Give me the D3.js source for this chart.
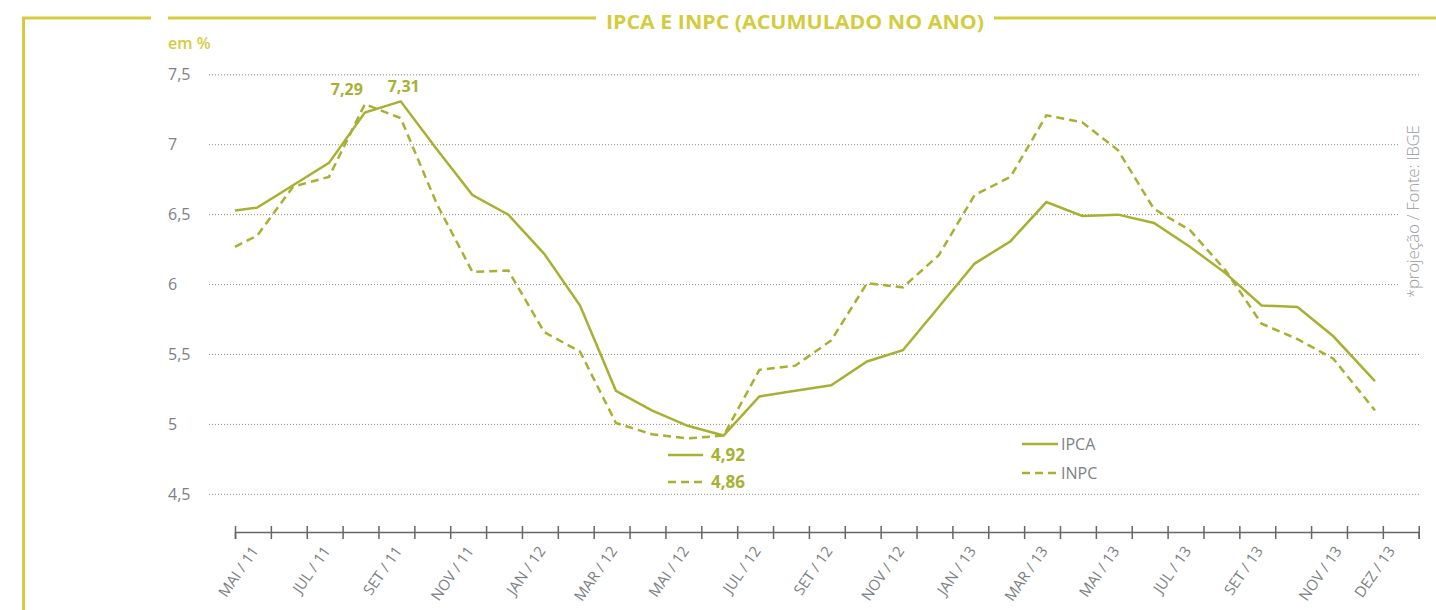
<!DOCTYPE html>
<html>
<head>
<meta charset="utf-8">
<script src="https://cdn.jsdelivr.net/npm/d3@7"></script>
<style>
  body { margin: 0; background: #fff; }
  text { font-family: "Open Sans", "Noto Sans", sans-serif; }
</style>
</head>
<body>
<div id="chart"></div>
<script>
// monthly points (first one is where the line enters the axis)
const monthPos = [0, 0.62, 1.62, 2.62, 3.62, 4.62, 5.62, 6.62, 7.62, 8.62, 9.62, 10.62, 11.62,
    12.62, 13.62, 14.62, 15.62, 16.62, 17.62, 18.62, 19.62, 20.62, 21.62, 22.62, 23.62, 24.62,
    25.62, 26.62, 27.62, 28.62, 29.62, 30.62, 31.78];
const ipca = [6.53, 6.55, 6.71, 6.87, 7.23, 7.31, 6.97, 6.64, 6.50, 6.22, 5.85, 5.24, 5.10,
    4.99, 4.92, 5.20, 5.24, 5.28, 5.45, 5.53, 5.84, 6.15, 6.31, 6.59, 6.49, 6.50,
    6.44, 6.27, 6.08, 5.85, 5.84, 5.63, 5.31];
const inpc = [6.27, 6.35, 6.70, 6.77, 7.29, 7.19, 6.58, 6.09, 6.10, 5.66, 5.52, 5.01, 4.93,
    4.90, 4.92, 5.39, 5.42, 5.60, 6.01, 5.98, 6.21, 6.64, 6.77, 7.21, 7.16, 6.96,
    6.54, 6.39, 6.10, 5.72, 5.61, 5.47, 5.10];

// x axis labels and where they sit
const xLabels = ['MAI / 11', 'JUL / 11', 'SET / 11', 'NOV / 11', 'JAN / 12', 'MAR / 12', 'MAI / 12',
    'JUL / 12', 'SET / 12', 'NOV / 12', 'JAN / 13', 'MAR / 13', 'MAI / 13', 'JUL / 13',
    'SET / 13', 'NOV / 13', 'DEZ / 13'];
const xLabelPos = [0.62, 2.62, 4.62, 6.62, 8.62, 10.62, 12.62, 14.62, 16.62, 18.62, 20.62,
    22.62, 24.62, 26.62, 28.62, 30.82, 32.3];
const yTicks = [4.5, 5, 5.5, 6, 6.5, 7, 7.5];

// highlighted values
const peaks = [{v: 7.29, i: 4, series: 'inpc'}, {v: 7.31, i: 5, series: 'ipca'}];
const minima = [{label: '4,92', series: 'ipca'}, {label: '4,86', series: 'inpc'}];

const lineColor = '#a8b032';
const yellow = '#d3cc3e';
const grey = '#7d7f82';

const width = 1436, height = 610;
const svg = d3.select('#chart').append('svg')
    .attr('width', width)
    .attr('height', height);

const xScale = d3.scaleLinear().domain([0, 33]).range([235, 1418.7]);
const yScale = d3.scaleLinear().domain([4.5, 7.5]).range([494.3, 74.8]);
const fmt = v => String(v).replace('.', ',');

// frame / title
svg.append('path')
    .attr('d', 'M23.5,610 L23.5,18 L151,18')
    .attr('fill', 'none')
    .attr('stroke', yellow)
    .attr('stroke-width', 3);
svg.append('line').attr('x1', 168).attr('x2', 596).attr('y1', 18).attr('y2', 18)
    .attr('stroke', yellow).attr('stroke-width', 3);
svg.append('line').attr('x1', 994).attr('x2', 1436).attr('y1', 18).attr('y2', 18)
    .attr('stroke', yellow).attr('stroke-width', 3);
svg.append('text')
    .attr('x', 606).attr('y', 29)
    .attr('fill', yellow)
    .attr('textLength', 378)
    .attr('lengthAdjust', 'spacingAndGlyphs')
    .style('font-size', '20px')
    .style('font-weight', 700)
    .text('IPCA E INPC (ACUMULADO NO ANO)');
svg.append('text')
    .attr('x', 168).attr('y', 49)
    .attr('fill', yellow)
    .style('font-size', '16px')
    .style('font-weight', 600)
    .text('em %');

// grid + y labels (middle lines stop short of the source note)
svg.append('g').selectAll('line')
    .data(yTicks)
    .join('line')
    .attr('x1', 209)
    .attr('x2', d => (d >= 6 && d <= 7) ? 1398 : 1420)
    .attr('y1', d => yScale(d)).attr('y2', d => yScale(d))
    .attr('stroke', '#8a8a8a')
    .attr('stroke-width', 1)
    .attr('stroke-dasharray', '1,2');
svg.append('g').selectAll('text')
    .data(yTicks)
    .join('text')
    .attr('x', 168)
    .attr('y', d => yScale(d))
    .attr('dy', '0.35em')
    .attr('fill', grey)
    .style('font-size', '16px')
    .text(fmt);

// x axis
const xAxis = d3.axisBottom(xScale)
    .tickValues(d3.range(0, 34))
    .tickSize(7)
    .tickFormat('');
const xAxisG = svg.append('g')
    .attr('transform', 'translate(0,532)')
    .call(xAxis);
xAxisG.select('.domain').attr('stroke', '#666').attr('stroke-width', 1.5);
xAxisG.selectAll('.tick line').attr('y1', -6).attr('stroke', '#666').attr('stroke-width', 1.5);

svg.append('g').selectAll('text')
    .data(xLabels)
    .join('text')
    .attr('transform', (d, i) => `translate(${xScale(xLabelPos[i]) + 2},551) rotate(-55)`)
    .attr('text-anchor', 'end')
    .attr('fill', grey)
    .style('font-size', '15px')
    .text(d => d);

// lines
const ipcaData = monthPos.map((p, i) => ({x: p, y: ipca[i]}));
const inpcData = monthPos.map((p, i) => ({x: p, y: inpc[i]}));
const line = d3.line().x(d => xScale(d.x)).y(d => yScale(d.y));

svg.append('path')
    .datum(inpcData)
    .attr('fill', 'none')
    .attr('stroke', lineColor)
    .attr('stroke-width', 2.5)
    .attr('stroke-dasharray', '8,5')
    .attr('d', line);
svg.append('path')
    .datum(ipcaData)
    .attr('fill', 'none')
    .attr('stroke', lineColor)
    .attr('stroke-width', 2.5)
    .attr('d', line);

// peak labels
svg.append('g').selectAll('text')
    .data(peaks)
    .join('text')
    .attr('x', d => xScale(monthPos[d.i]) + (d.series === 'inpc' ? -18 : 3))
    .attr('y', d => yScale(d.v) - 9)
    .attr('text-anchor', 'middle')
    .attr('fill', lineColor)
    .style('font-size', '16px')
    .style('font-weight', 700)
    .text(d => fmt(d.v));

// minima key
const minG = svg.append('g').attr('transform', 'translate(668,455)');
minima.forEach((m, i) => {
    minG.append('line')
        .attr('x1', 0).attr('x2', 35)
        .attr('y1', i * 27).attr('y2', i * 27)
        .attr('stroke', lineColor)
        .attr('stroke-width', 2.5)
        .attr('stroke-dasharray', m.series === 'inpc' ? '8,5' : null);
    minG.append('text')
        .attr('x', 43).attr('y', i * 27)
        .attr('dy', '0.38em')
        .attr('fill', lineColor)
        .style('font-size', '17px')
        .style('font-weight', 700)
        .text(m.label);
});

// legend
const legend = svg.append('g').attr('transform', 'translate(1022,444)');
['IPCA', 'INPC'].forEach((name, i) => {
    legend.append('line')
        .attr('x1', 0).attr('x2', 36)
        .attr('y1', i * 29).attr('y2', i * 29)
        .attr('stroke', lineColor)
        .attr('stroke-width', 2.5)
        .attr('stroke-dasharray', name === 'INPC' ? '8,5' : null);
    legend.append('text')
        .attr('x', 39).attr('y', i * 29)
        .attr('dy', '0.36em')
        .attr('fill', grey)
        .style('font-size', '16px')
        .text(name);
});

// source
svg.append('text')
    .attr('transform', 'translate(1419,298) rotate(-90)')
    .attr('fill', '#9a9b9e')
    .attr('textLength', 173)
    .attr('lengthAdjust', 'spacing')
    .style('font-size', '17px')
    .style('font-weight', 300)
    .text('*projeção / Fonte: IBGE');
</script>
</body>
</html>
